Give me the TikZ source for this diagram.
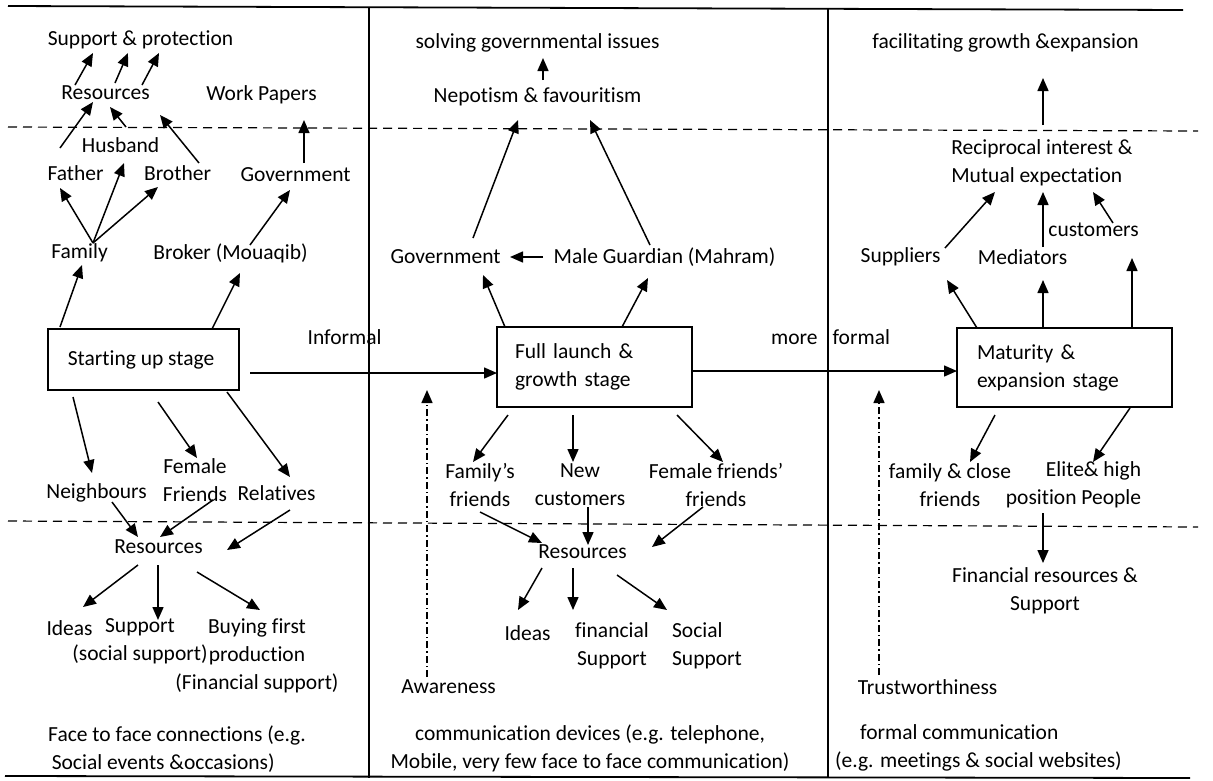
\documentclass[tikz,border=0pt]{standalone}
\usepackage{fontspec}
\setmainfont{Carlito}[Ligatures=NoCommon]
\usetikzlibrary{arrows.meta}

\begin{document}
\begin{tikzpicture}[x=1pt, y=-1pt, >={Triangle[length=13pt,width=11pt]},
    every node/.style={
        inner sep=1pt,
        align=center,
        font=\fontsize{21.5}{28}\selectfont
    },
    stagebox/.style={draw, line width=1.4pt, minimum height=80pt},
    link/.style={->, line width=1.5pt},
    hint/.style={->, line width=1.5pt, dash pattern=on 7pt off 3pt on 1.5pt off 3pt},
    border/.style={line width=1.8pt},
    divider/.style={line width=1.2pt, dash pattern=on 9pt off 6pt}]
    \useasboundingbox (0,0) rectangle (1213,780);

    % frame of the three stages
    \draw[border] (8,6) -- (1183,10);
    \draw[border] (5,776) -- (1190,778);
    \draw[border] (369,8) -- (369,778);
    \draw[border] (828,9) -- (828,778);
    \draw[divider] (8,127) -- (1198,131);
    \draw[divider] (8,521) -- (1198,527);

    % starting up stage
    \node (support_protection) [shift={(143,40)}]
    {
        Support \& protection
    };
    \node (resources_top) [shift={(108,93)}]
    {
        Resources
    };
    \node (work_papers) [shift={(264,95)}]
    {
        Work Papers
    };
    \node (husband) [shift={(123,145)}]
    {
        Husband
    };
    \node (father) [shift={(78,173)}]
    {
        Father
    };
    \node (brother) [shift={(180,173)}]
    {
        Brother
    };
    \node (government_one) [shift={(298,175)}]
    {
        Government
    };
    \node (family) [shift={(82,253)}]
    {
        Family
    };
    \node (broker) [shift={(233,253)}]
    {
        Broker (Mouaqib)
    };
    \node (starting_up) [stagebox, minimum width=191pt, minimum height=61pt, shift={(143.5,359.5)}]
    {
        Starting up stage
    };
    \node (informal) [shift={(347,337)}]
    {
        Informal
    };
    \node (neighbours) [shift={(99,493)}]
    {
        Neighbours
    };
    \node (female_friends) [shift={(195,480)}]
    {
        Female\\Friends
    };
    \node (relatives) [shift={(279,493)}]
    {
        Relatives
    };
    \node (resources_start) [shift={(161,547)}]
    {
        Resources
    };
    \node (ideas_start) [shift={(72,628)}]
    {
        Ideas
    };
    \node (social_support_start) [shift={(140,641)}]
    {
        Support\\(social support)
    };
    \node (buying_first) [shift={(257,656)}]
    {
        Buying first\\production\\(Financial support)
    };
    \node (face_to_face) [align=left, anchor=west, shift={(47,749)}]
    {
        Face to face connections (e.g.\\\,Social events \&occasions)
    };

    % full launch and growth stage
    \node (solving) [shift={(540,43)}]
    {
        solving governmental issues
    };
    \node (nepotism) [shift={(540,97)}]
    {
        Nepotism \& favouritism
    };
    \node (government_two) [shift={(448,257)}]
    {
        Government
    };
    \node (male_guardian) [shift={(667,257)}]
    {
        Male Guardian (Mahram)
    };
    \node (full_launch) [stagebox, text width=159pt, inner xsep=18pt, align=left, shift={(594.5,367)}]
    {
        Full launch \&\\growth stage
    };
    \node (more_formal) [shift={(833,337)}]
    {
        more\hspace{15pt}formal
    };
    \node (family_friends) [shift={(480,485)}]
    {
        Family’s\\friends
    };
    \node (new_customers) [shift={(580,485)}]
    {
        New\\customers
    };
    \node (female_friends_two) [shift={(716,485)}]
    {
        Female friends’\\friends
    };
    \node (resources_growth) [shift={(585,552)}]
    {
        Resources
    };
    \node (ideas_growth) [shift={(530,633)}]
    {
        Ideas
    };
    \node (financial_support) [shift={(612,646)}]
    {
        financial\\Support
    };
    \node (social_support) [align=left, shift={(707,646)}]
    {
        Social\\Support
    };
    \node (awareness) [shift={(451,687)}]
    {
        Awareness
    };
    \node (devices) [shift={(590,748)}]
    {
        communication devices (e.g. telephone,\\Mobile, very few face to face communication)
    };
    \coordinate (awareness_tip) at (427,390);

    % maturity and expansion stage
    \node (facilitating) [shift={(1008,43)}]
    {
        facilitating growth \&expansion
    };
    \node (reciprocal) [align=left, shift={(1042,163)}]
    {
        Reciprocal interest \&\\Mutual expectation
    };
    \node (suppliers) [shift={(903,257)}]
    {
        Suppliers
    };
    \node (mediators) [shift={(1025,257)}]
    {
        Mediators
    };
    \node (customers) [shift={(1096,230)}]
    {
        customers
    };
    \node (maturity) [stagebox, minimum height=79pt, text width=175pt, inner xsep=20pt, align=left, shift={(1064.5,367.5)}]
    {
        Maturity \&\\expansion stage
    };
    \node (family_close) [shift={(950,485)}]
    {
        family \& close\\friends
    };
    \node (elite) [align=right, shift={(1073.5,485)}]
    {
        Elite\& high\\position People
    };
    \node (financial_resources) [shift={(1045,591)}]
    {
        Financial resources \&\\Support
    };
    \node (trustworthiness) [shift={(930,687)}]
    {
        Trustworthiness
    };
    \node (formal_comm) [align=left, anchor=west, shift={(834,748)}]
    {
        \hspace*{25pt}formal communication\\(e.g. meetings \& social websites)
    };
    \coordinate (trust_tip) at (879,390);

    \draw[link] ([shift={(-33,-8)}]resources_top.center) to ([shift={(-50,13)}]support_protection.center);
    \draw[link] ([shift={(7,-10)}]resources_top.center) to ([shift={(-15,13)}]support_protection.center);
    \draw[link] ([shift={(34,-8)}]resources_top.center) to ([shift={(16,13)}]support_protection.center);
    \draw[link] ([shift={(-18,-25)}]father.center) to ([shift={(-15,9)}]resources_top.center);
    \draw[link] ([shift={(3,-18)}]husband.center) to ([shift={(2,14)}]resources_top.center);
    \draw[link] ([shift={(19,-10)}]brother.center) to ([shift={(52,22)}]resources_top.center);
    \draw[link] ([shift={(6,-12)}]government_one.center) to ([shift={(40,25)}]work_papers.center);
    \draw[link] ([shift={(11,-10)}]family.center) to ([shift={(-18,15)}]father.center);
    \draw[link] ([shift={(11,-10)}]family.center) to ([shift={(1,18)}]husband.center);
    \draw[link] ([shift={(11,-10)}]family.center) to ([shift={(-22,14)}]brother.center);
    \draw[link] ([shift={(17,-8)}]broker.center) to ([shift={(-8,15)}]government_one.center);
    \draw[link] ([shift={(-83.5,-32.5)}]starting_up.center) to ([shift={(0,12)}]family.center);
    \draw[link] ([shift={(68.5,-30.5)}]starting_up.center) to ([shift={(7,20)}]broker.center);
    \draw[link] ([shift={(106.5,13.5)}]starting_up.center) to ([shift={(-97.5,6)}]full_launch.center);
    \draw[link] ([shift={(-70.5,37.5)}]starting_up.center) to ([shift={(-7,-20)}]neighbours.center);
    \draw[link] ([shift={(14.5,42.5)}]starting_up.center) to ([shift={(2,-22)}]female_friends.center);
    \draw[link] ([shift={(83.5,32.5)}]starting_up.center) to ([shift={(11,-16)}]relatives.center);
    \draw[link] ([shift={(13,9)}]neighbours.center) to ([shift={(-23,-10)}]resources_start.center);
    \draw[link] ([shift={(18,20)}]female_friends.center) to ([shift={(-1,-10)}]resources_start.center);
    \draw[link] ([shift={(11,17)}]relatives.center) to ([shift={(66,3)}]resources_start.center);
    \draw[link] ([shift={(-23,18)}]resources_start.center) to ([shift={(11,-21)}]ideas_start.center);
    \draw[link] ([shift={(-3,18)}]resources_start.center) to ([shift={(18,-21)}]social_support_start.center);
    \draw[link] ([shift={(36,25)}]resources_start.center) to ([shift={(3,-46)}]buying_first.center);

    \draw[link] ([shift={(3,-17)}]nepotism.center) to ([shift={(3,15)}]solving.center);
    \draw[link] ([shift={(-124,0)}]male_guardian.center) to ([shift={(62,0)}]government_two.center);
    \draw[link] ([shift={(25,-19)}]government_two.center) to ([shift={(-22,23)}]nepotism.center);
    \draw[link] ([shift={(-17,-12)}]male_guardian.center) to ([shift={(50,23)}]nepotism.center);
    \draw[link] ([shift={(-89.5,-40)}]full_launch.center) to ([shift={(35,18)}]government_two.center);
    \draw[link] ([shift={(27.5,-40)}]full_launch.center) to ([shift={(-19,21)}]male_guardian.center);
    \draw[link] ([shift={(97.5,4)}]full_launch.center) to ([shift={(-107.5,3.5)}]maturity.center);
    \draw[link] ([shift={(-86.5,48)}]full_launch.center) to ([shift={(-7,-23)}]family_friends.center);
    \draw[link] ([shift={(-21.5,48)}]full_launch.center) to ([shift={(-7,-23)}]new_customers.center);
    \draw[link] ([shift={(82.5,48)}]full_launch.center) to ([shift={(7,-23)}]female_friends_two.center);
    \draw[link] ([shift={(0,27)}]family_friends.center) to ([shift={(-43,-9)}]resources_growth.center);
    \draw[link] ([shift={(8,22)}]new_customers.center) to ([shift={(3,-7)}]resources_growth.center);
    \draw[link] ([shift={(-13,22)}]female_friends_two.center) to ([shift={(67,-5)}]resources_growth.center);
    \draw[link] ([shift={(-43,16)}]resources_growth.center) to ([shift={(-12,-23)}]ideas_growth.center);
    \draw[link] ([shift={(-12,16)}]resources_growth.center) to ([shift={(-39,-36)}]financial_support.center);
    \draw[link] ([shift={(32,23)}]resources_growth.center) to ([shift={(-40,-36)}]social_support.center);
    \draw[hint] ([shift={(-24,-10)}]awareness.center) to (awareness_tip);

    \draw[link] ([shift={(1,-38)}]reciprocal.center) to ([shift={(35,35)}]facilitating.center);
    \draw[link] ([shift={(42,-9)}]suppliers.center) to ([shift={(-47,29)}]reciprocal.center);
    \draw[link] ([shift={(18,-10)}]mediators.center) to ([shift={(1,29)}]reciprocal.center);
    \draw[link] ([shift={(17,-7)}]customers.center) to ([shift={(51,29)}]reciprocal.center);
    \draw[link] ([shift={(-87.5,-39.5)}]maturity.center) to ([shift={(44,23)}]suppliers.center);
    \draw[link] ([shift={(-21.5,-39.5)}]maturity.center) to ([shift={(18,23)}]mediators.center);
    \draw[link] ([shift={(67.5,-39.5)}]maturity.center) to ([shift={(36,28)}]customers.center);
    \draw[link] ([shift={(-69.5,47.5)}]maturity.center) to ([shift={(20,-23)}]family_close.center);
    \draw[link] ([shift={(65.5,40.5)}]maturity.center) to ([shift={(19.5,-23)}]elite.center);
    \draw[link] ([shift={(-30.5,28)}]elite.center) to ([shift={(-2,-28)}]financial_resources.center);
    \draw[hint] ([shift={(-51,-12)}]trustworthiness.center) to (trust_tip);
\end{tikzpicture}
\end{document}
